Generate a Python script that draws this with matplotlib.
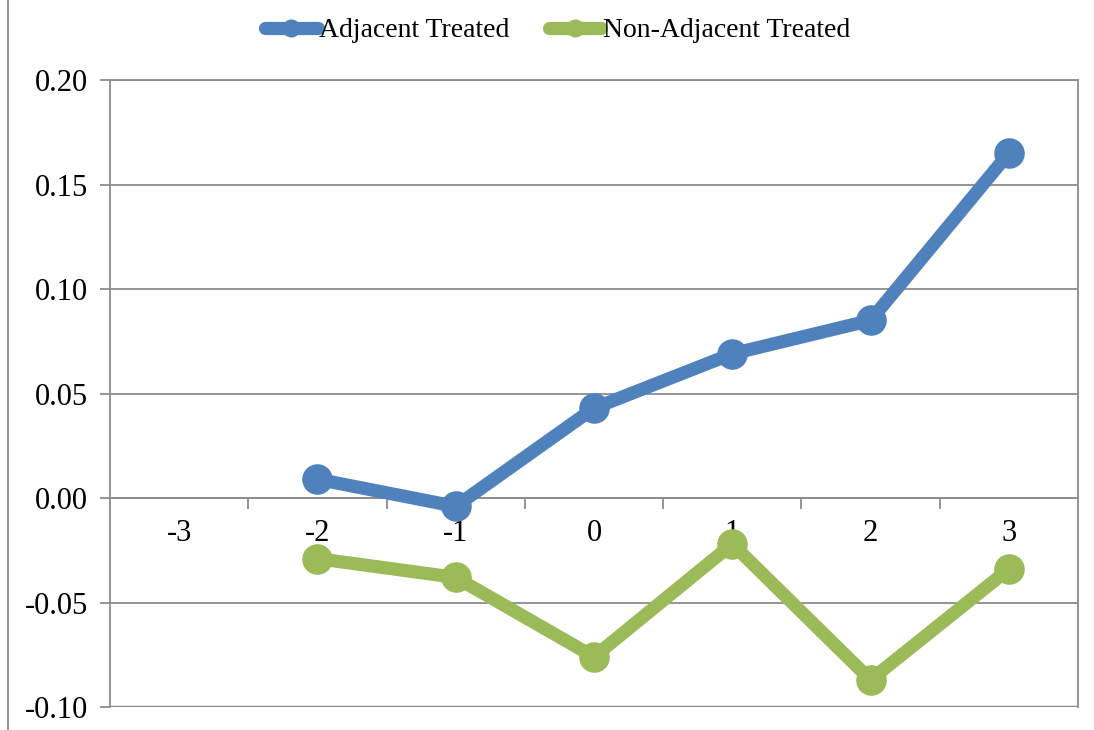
import numpy as np
from matplotlib import pyplot as plt
from matplotlib.lines import Line2D
from matplotlib.ticker import FixedLocator

# chart data
periods = ["-3", "-2", "-1", "0", "1", "2", "3"]
adjacent = [np.nan, 0.009, -0.004, 0.043, 0.069, 0.085, 0.165]
non_adjacent = [np.nan, -0.029, -0.038, -0.076, -0.022, -0.087, -0.034]
y_ticks = [-0.10, -0.05, 0.00, 0.05, 0.10, 0.15, 0.20]

BLUE = "#4F81BD"
GREEN = "#9BBB59"
GRID = "#8c8c8c"

plt.rcParams["font.family"] = ["Liberation Serif", "DejaVu Serif"]

fig, ax = plt.subplots(figsize=(10.94, 7.30), dpi=100)
fig.subplots_adjust(left=0.1005, right=0.9854, top=0.8904, bottom=0.0315)

xs = np.arange(len(periods))
ax.plot(xs, adjacent, color=BLUE, lw=9.5, marker="o", ms=21,
        solid_capstyle="round", zorder=3)
ax.plot(xs, non_adjacent, color=GREEN, lw=9.5, marker="o", ms=21,
        solid_capstyle="round", zorder=3)

ax.set_xlim(-0.5, len(periods) - 0.5)
ax.set_ylim(y_ticks[0], y_ticks[-1])
ax.set_yticks(y_ticks)
ax.set_yticklabels([f"{v:.2f}" for v in y_ticks])
ax.yaxis.grid(True, color=GRID, lw=1.3)
ax.set_axisbelow(True)

# category axis crosses at zero
ax.spines["bottom"].set_position(("data", 0))
for s in ax.spines.values():
    s.set_color(GRID)
    s.set_linewidth(1.3)
ax.set_xticks(xs)
ax.set_xticklabels(periods)
ax.xaxis.set_minor_locator(FixedLocator(np.arange(0.5, len(periods) - 1, 1.0)))
ax.tick_params(axis="x", which="major", length=0, pad=15, labelsize=22)
ax.tick_params(axis="x", which="minor", length=8, width=1.3, color=GRID, direction="out")
ax.tick_params(axis="y", length=7, width=1.3, color=GRID, labelsize=22, pad=9)

# the box bottom edge
ax.axhline(y_ticks[0], color=GRID, lw=2.5, zorder=2)

handles = [
    Line2D([], [], color=BLUE, lw=9.5, marker="o", ms=12, solid_capstyle="round"),
    Line2D([], [], color=GREEN, lw=9.5, marker="o", ms=12, solid_capstyle="round"),
]
fig.legend(handles, ["Adjacent Treated", "Non-Adjacent Treated"], loc="center",
           bbox_to_anchor=(0.5096, 0.958), ncol=2, frameon=False, fontsize=20,
           handlelength=1.9, handletextpad=0.05, columnspacing=1.4)

fig.add_artist(Line2D([8 / 1094, 8 / 1094], [0, 1], color=GRID, lw=1.3))

fig.savefig("out.png", dpi=100)
